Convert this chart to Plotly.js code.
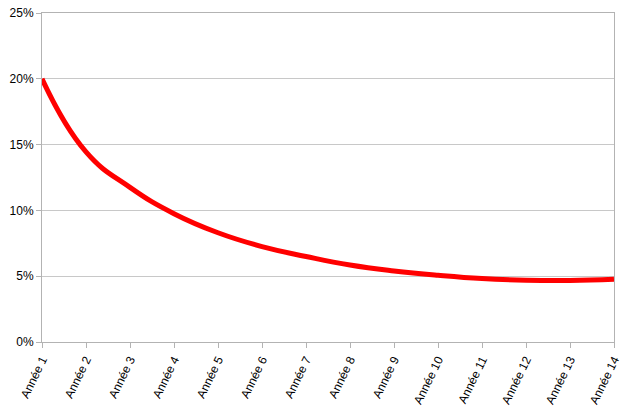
<!DOCTYPE html>
<html>
<head>
<meta charset="utf-8">
<script src="https://cdn.plot.ly/plotly-3.0.1.min.js"></script>
<style>html,body{margin:0;padding:0;background:#fff;}#chart{width:626px;height:419px;}</style>
</head>
<body>
<div id="chart"></div>
<script>
const categories = ["Année 1","Année 2","Année 3","Année 4","Année 5","Année 6","Année 7","Année 8","Année 9","Année 10","Année 11","Année 12","Année 13","Année 14"];
const values = [20.0, 14.45, 11.75, 9.75, 8.3, 7.25, 6.5, 5.85, 5.4, 5.07, 4.82, 4.7, 4.68, 4.77];
const yTicks = [0, 5, 10, 15, 20, 25];

const trace = {
  x: categories,
  y: values,
  type: 'scatter',
  mode: 'lines',
  line: {color: '#ff0000', width: 5, shape: 'spline', smoothing: 1.3},
  hoverinfo: 'skip'
};

const layout = {
  width: 626,
  height: 419,
  margin: {l: 42, r: 12, t: 13, b: 77},
  paper_bgcolor: '#ffffff',
  plot_bgcolor: '#ffffff',
  showlegend: false,
  font: {family: 'Liberation Sans, Arial, sans-serif', size: 12, color: '#000'},
  xaxis: {
    type: 'category',
    range: [0, categories.length - 1],
    tickangle: -64,
    ticks: 'outside',
    ticklen: 5,
    tickcolor: '#b3b3b3',
    showgrid: false,
    showline: true,
    linecolor: '#b3b3b3',
    linewidth: 1,
    mirror: true,
    zeroline: false,
    tickfont: {size: 12, color: '#000'}
  },
  yaxis: {
    range: [0, 25],
    tickvals: yTicks,
    ticktext: yTicks.map(v => v + '%'),
    ticks: 'outside',
    ticklen: 5,
    tickcolor: '#b3b3b3',
    showgrid: true,
    gridcolor: '#c8c8c8',
    gridwidth: 1,
    showline: true,
    linecolor: '#b3b3b3',
    linewidth: 1,
    mirror: true,
    zeroline: false,
    tickfont: {size: 12, color: '#000'}
  }
};

Plotly.newPlot('chart', [trace], layout, {displayModeBar: false, staticPlot: true});
</script>
</body>
</html>
